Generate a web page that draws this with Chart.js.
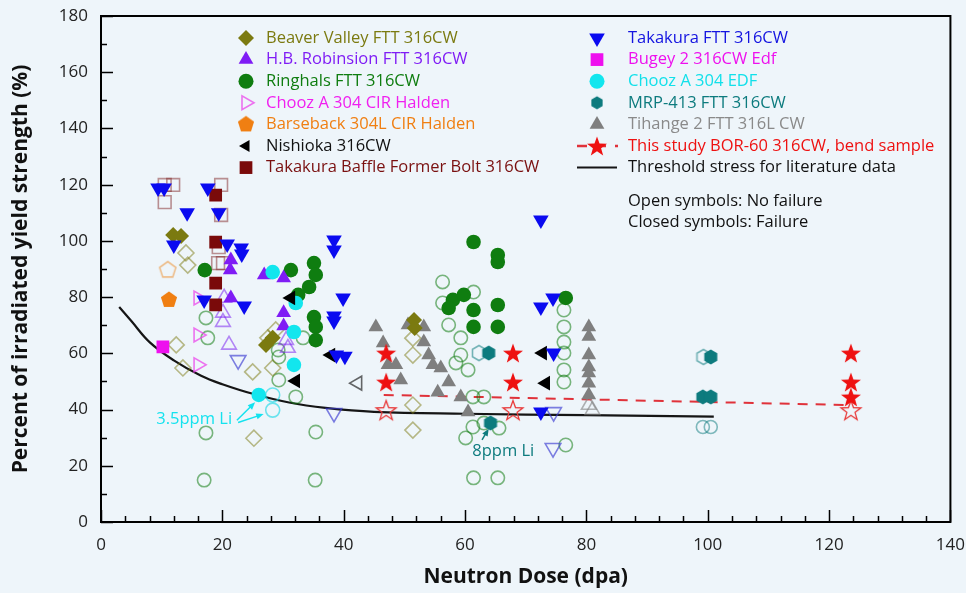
<!doctype html>
<html lang="en">
<head>
<meta charset="utf-8">
<title>Percent of irradiated yield strength vs neutron dose</title>
<script src="https://cdn.jsdelivr.net/npm/chart.js@4.4.0/dist/chart.umd.min.js"></script>
<style>
  html, body { margin: 0; padding: 0; background: #eef5fa; }
  #wrap { width: 966px; height: 593px; }
</style>
</head>
<body>
<div id="wrap"><canvas id="myChart" width="966" height="593"></canvas></div>

<script>
// ---- data: [dose (dpa), % of irradiated yield strength] ----
const beaverClosed = [[11.9,102.1],[13.2,101.7],[27.2,63],[28.3,65.5],[51.6,71.9],[51.7,69]];
const beaverOpen = [[14,95.7],[14.3,91.4],[12.4,63],[13.5,54.8],[25,53.4],[28.3,54.8],[27.5,65.5],[28.8,68.3],
  [25.2,29.8],[51.4,65.4],[51.4,59.4],[51.4,41.6],[51.4,32.7]];

const robinsonClosed = [[21.4,93.2],[21.3,89.6],[21.4,79.7],[26.9,87.9],[30.1,86.8],[30.1,74.4],[30.1,69.7]];
const robinsonOpen = [[20.3,79.7],[20.1,74.4],[20.1,71.1],[21.1,63],[30.5,64.7],[30.8,61.9]];

const ringhalsClosed = [[17.1,89.6],[31.3,89.6],[35.1,92.1],[35.4,87.9],[34.3,83.6],[32.5,80.8],[35.1,72.9],
  [35.4,69.4],[35.4,64.7],[61.4,99.6],[65.4,95],[65.4,92.5],[58,79],[59.8,80.8],[57.3,76.1],[61.4,75.4],
  [65.4,77.2],[61.4,69.4],[65.4,69.4],[76.6,79.7]];
const ringhalsOpen = [[17.3,72.6],[17.6,65.5],[29.2,61.2],[29.3,58.7],[29.3,50.5],[32.1,44.5],[35.4,32],
  [17.3,31.7],[17,14.9],[35.3,14.9],[33.3,65.5],[56.3,85.4],[56.3,77.9],[61.4,81.8],[57.3,70.1],[59.3,65.5],
  [59.3,59.4],[58.5,56.6],[60.5,54.1],[61.3,44.5],[63.1,44.5],[61.3,33.8],[63.1,35.2],[65.6,33.4],[60.1,29.9],
  [61.4,15.7],[65.4,15.7],[76.3,75.4],[76.3,69.4],[76.3,64],[76.3,60.1],[76.3,54.1],[76.3,49.8],[76.6,27.4]];

const choozCirOpen = [[16,79.7],[16,66.5],[16,55.9]];

const barsebackClosed = [[11.2,79]];
const barsebackOpen = [[11,89.6]];

const nishiokaClosed = [[31.3,79.7],[32.1,50.2],[37.9,59.4],[72.8,60.1],[73.3,49.4]];
const nishiokaOpen = [[42.3,49.4]];

const baffleClosed = [[18.9,116.3],[18.9,99.6],[18.9,85],[18.9,77.2]];
const baffleOpen = [[10.5,119.9],[11.9,119.9],[10.5,113.8],[19.8,119.9],[19.8,109.2],[19.4,97.8],[19.3,92.1],[20.1,92.1]];

const takakuraClosed = [[9.4,118.8],[10.4,118.8],[17.6,118.8],[14.2,110],[19.4,110],[12,98.5],[20.8,98.9],
  [23.1,97.5],[23.2,95.3],[17,79],[23.6,76.8],[38.4,100.3],[38.4,96.8],[39.9,79.7],[38.4,73.3],[38.4,71.5],
  [38.8,59.4],[40.2,59],[72.5,107.4],[72.5,76.5],[74.5,79.7],[74.6,60.1],[72.5,39.1]];
const takakuraOpen = [[22.6,57.6],[38.4,38.8],[74.6,39.1],[74.5,26.3]];

const bugeyClosed = [[10.2,62.3]];

const choozEdfClosed = [[28.3,88.9],[32.1,77.9],[31.8,67.6],[31.8,55.9],[26,45.2]];
const choozEdfOpen = [[28.3,45.2],[28.3,39.8]];

const mrpClosed = [[63.9,60.1],[100.5,58.7],[99.2,44.5],[100.5,44.5],[64.2,35.2]];
const mrpOpen = [[62.3,60.1],[99.3,58.7]];
const mrpOpenCircles = [[99.2,33.8],[100.5,33.8]];

const tihangeClosed = [[45.3,69.4],[46.5,63.7],[47.3,55.9],[48.6,55.9],[49.4,50.5],[50.6,70.1],[53.2,69.4],
  [53.2,64],[54,59.4],[54.7,55.9],[56,54.8],[57.3,49.8],[55.5,46.2],[59.3,44.5],[60.5,39.1],[80.4,69.4],
  [80.4,66],[80.4,59.4],[80.4,55.1],[80.4,53],[80.4,49.4],[80.4,45.2]];
const tihangeOpen = [[80.4,41.6],[81,39.8]];

const studyClosed = [[47,60.1],[47,49.8],[67.9,60.1],[67.9,49.8],[123.6,60.1],[123.6,49.8],[123.6,44.5]];
const studyOpen = [[47,39.8],[67.9,39.8],[123.6,39.8]];
const studyTrend = [[46.6,45.2],[123.2,41.6]];

const threshold = [[3,76.5],[5,71.5],[8,64],[12,57.5],[16.5,52],[20,49],[25,45.6],[31,42.5],[37,40.6],
  [45,39.2],[60,38.5],[80,38],[101,37.5]];

const xTicks = [0, 20, 40, 60, 80, 100, 120, 140];
const yTicks = [0, 20, 40, 60, 80, 100, 120, 140, 160, 180];

// ---- custom marker images (pentagon, hexagon, star) ----
function polyImage(sides, r, fill, stroke, lw) {
  const s = Math.ceil(2 * r + lw + 3);
  const c = document.createElement('canvas');
  c.width = c.height = s;
  const g = c.getContext('2d');
  g.beginPath();
  for (let i = 0; i < sides; i++) {
    const a = -Math.PI / 2 + i * 2 * Math.PI / sides;
    const px = s / 2 + r * Math.cos(a), py = s / 2 + r * Math.sin(a);
    if (i) g.lineTo(px, py); else g.moveTo(px, py);
  }
  g.closePath();
  if (fill) { g.fillStyle = fill; g.fill(); }
  if (stroke) { g.strokeStyle = stroke; g.lineWidth = lw; g.stroke(); }
  return c;
}
function starImage(R, r, fill, stroke, lw) {
  const s = Math.ceil(2 * R + lw + 3);
  const c = document.createElement('canvas');
  c.width = c.height = s;
  const g = c.getContext('2d');
  g.beginPath();
  for (let i = 0; i < 10; i++) {
    const a = -Math.PI / 2 + i * Math.PI / 5;
    const rr = i % 2 ? r : R;
    const px = s / 2 + rr * Math.cos(a), py = s / 2 + 1 + rr * Math.sin(a);
    if (i) g.lineTo(px, py); else g.moveTo(px, py);
  }
  g.closePath();
  if (fill) { g.fillStyle = fill; g.fill(); }
  if (stroke) { g.strokeStyle = stroke; g.lineWidth = lw; g.stroke(); }
  return c;
}

const pentFilled = polyImage(5, 8.5, '#f07f12', null, 0);
const pentOpen = polyImage(5, 8.5, null, 'rgba(236,150,60,0.6)', 1.6);
const hexFilled = polyImage(6, 7.5, '#0d7b7e', null, 0);
const hexOpen = polyImage(6, 7.5, null, 'rgba(13,123,126,0.55)', 1.6);
const hexLegend = polyImage(6, 6.5, '#0d7b7e', null, 0);
const starFilled = starImage(10.5, 4.3, '#ee1111', null, 0);
const starOpen = starImage(10.5, 4.3, null, '#e83a3a', 1.3);

function filled(label, data, color, style, r, rot) {
  return { label, data, pointStyle: style, rotation: rot || 0, pointRadius: r, pointHoverRadius: r,
    backgroundColor: color, borderColor: color, borderWidth: 0, showLine: false };
}
function open(label, data, color, style, r, rot) {
  return { label, data, pointStyle: style, rotation: rot || 0, pointRadius: r, pointHoverRadius: r,
    backgroundColor: 'rgba(0,0,0,0)', borderColor: color, borderWidth: 1.6, showLine: false };
}

const dsTakakura = filled('Takakura FTT 316CW', takakuraClosed, '#0a0af0', 'triangle', 9, 180);
const dsBaffle = filled('Takakura Baffle Former Bolt 316CW', baffleClosed, '#7a0a0a', 'rect', 9);
const dsBeaver = filled('Beaver Valley FTT 316CW', beaverClosed, '#7b7a10', 'rectRot', 8);
const dsRobinson = filled('H.B. Robinsion FTT 316CW', robinsonClosed, '#7f1cf5', 'triangle', 8.5);
const dsRinghals = filled('Ringhals FTT 316CW', ringhalsClosed, '#0f7d10', 'circle', 7.3);
const dsChoozCir = open('Chooz A 304 CIR Halden', choozCirOpen, 'rgba(235,70,235,0.75)', 'triangle', 8, 90);
const dsBarseback = filled('Barseback 304L CIR Halden', barsebackClosed, '#f07f12', pentFilled, 8);
const dsNishioka = filled('Nishioka 316CW', nishiokaClosed, '#000000', 'triangle', 8.5, -90);
const dsBugey = filled('Bugey 2 316CW Edf', bugeyClosed, '#ee10ee', 'rect', 9);
const dsChoozEdf = filled('Chooz A 304 EDF', choozEdfClosed, '#12e6ee', 'circle', 7.3);
const dsMrp = filled('MRP-413 FTT 316CW', mrpClosed, '#0d7b7e', hexFilled, 7);
const dsTihange = filled('Tihange 2 FTT 316L CW', tihangeClosed, '#7f7f7f', 'triangle', 8.5);
const dsStudy = filled('This study BOR-60 316CW, bend sample', studyClosed, '#ee1111', starFilled, 10);

const dsStudyLine = { label: 'study trend', data: studyTrend, showLine: true, pointRadius: 0,
  borderColor: '#e0323a', borderWidth: 2, borderDash: [10, 8], fill: false };
const dsThreshold = { label: 'Threshold stress for literature data', data: threshold, showLine: true,
  pointRadius: 0, borderColor: '#151515', borderWidth: 2.2, tension: 0.4, fill: false };

const datasets = [
  dsStudy, dsTakakura, dsNishioka, dsBaffle, dsBugey, dsMrp, dsChoozEdf, dsRobinson, dsBeaver,
  dsBarseback, dsRinghals, dsTihange,
  open('open star', studyOpen, '#e83a3a', starOpen, 10),
  open('open takakura', takakuraOpen, 'rgba(60,60,210,0.65)', 'triangle', 9, 180),
  open('open nishioka', nishiokaOpen, 'rgba(40,40,40,0.7)', 'triangle', 8, -90),
  dsChoozCir,
  open('open chooz edf', choozEdfOpen, 'rgba(20,215,230,0.6)', 'circle', 7),
  open('open mrp', mrpOpen, 'rgba(13,123,126,0.55)', hexOpen, 7),
  open('open mrp circ', mrpOpenCircles, 'rgba(13,123,126,0.5)', 'circle', 6.5),
  open('open robinson', robinsonOpen, 'rgba(127,40,240,0.55)', 'triangle', 8.5),
  open('open baffle', baffleOpen, 'rgba(130,40,40,0.5)', 'rect', 9),
  open('open beaver', beaverOpen, 'rgba(123,122,16,0.5)', 'rectRot', 8),
  open('open barseback', barsebackOpen, 'rgba(236,150,60,0.6)', pentOpen, 8),
  open('open ringhals', ringhalsOpen, 'rgba(20,125,20,0.55)', 'circle', 6.7),
  open('open tihange', tihangeOpen, 'rgba(130,130,130,0.6)', 'triangle', 8.5),
  dsStudyLine, dsThreshold
];

// legend rows (drawn by the plugin below)
const legendLeft = [
  [dsBeaver, '#7b7a10'], [dsRobinson, '#7f1cf5'], [dsRinghals, '#0f7d10'], [dsChoozCir, '#f020f0'],
  [dsBarseback, '#f07f12'], [dsNishioka, '#111111'], [dsBaffle, '#7a1010']
];
const legendRight = [
  [dsTakakura, '#1414e0'], [dsBugey, '#ee10ee'], [dsChoozEdf, '#12e0ea'], [dsMrp, '#0d7b7e'],
  [dsTihange, '#8a8a8a'], [dsStudy, '#ee1111'], [dsThreshold, '#111111']
];

const framePlugin = {
  id: 'frame',
  beforeDatasetsDraw(chart) {
    const { ctx, chartArea: a, scales } = chart;
    ctx.save();
    ctx.strokeStyle = '#000';
    ctx.lineWidth = 2;
    ctx.strokeRect(a.left, a.top, a.right - a.left, a.bottom - a.top);
    ctx.lineWidth = 1.5;
    ctx.beginPath();
    for (let v = 0; v <= 140; v += 4) {
      const px = Math.round(scales.x.getPixelForValue(v)) + 0.5;
      const len = v % 20 === 0 ? 12 : 6;
      ctx.moveTo(px, a.bottom); ctx.lineTo(px, a.bottom - len);
    }
    for (let v = 0; v <= 180; v += 10) {
      const py = Math.round(scales.y.getPixelForValue(v)) + 0.5;
      const len = v % 20 === 0 ? 12 : 6;
      ctx.moveTo(a.left, py); ctx.lineTo(a.left + len, py);
    }
    ctx.stroke();
    ctx.restore();
  }
};

function drawArrow(ctx, x1, y1, x2, y2, color) {
  const ang = Math.atan2(y2 - y1, x2 - x1);
  ctx.strokeStyle = color; ctx.fillStyle = color; ctx.lineWidth = 1.5;
  ctx.beginPath(); ctx.moveTo(x1, y1); ctx.lineTo(x2 - 5 * Math.cos(ang), y2 - 5 * Math.sin(ang)); ctx.stroke();
  ctx.beginPath();
  ctx.moveTo(x2, y2);
  ctx.lineTo(x2 - 8 * Math.cos(ang - 0.4), y2 - 8 * Math.sin(ang - 0.4));
  ctx.lineTo(x2 - 8 * Math.cos(ang + 0.4), y2 - 8 * Math.sin(ang + 0.4));
  ctx.closePath(); ctx.fill();
}

const notesPlugin = {
  id: 'notes',
  afterDraw(chart) {
    const { ctx, scales } = chart;
    const X = v => scales.x.getPixelForValue(v), Y = v => scales.y.getPixelForValue(v);
    ctx.save();
    ctx.font = '16.5px "Open Sans", sans-serif';
    ctx.textBaseline = 'middle';
    ctx.textAlign = 'right';
    ctx.fillStyle = '#14e2ee';
    ctx.fillText('3.5ppm Li', X(21.6), Y(36.6));
    drawArrow(ctx, X(22.4), Y(36.2), X(25.4), Y(42.6), '#14e2ee');
    drawArrow(ctx, X(22.6), Y(35.4), X(26.8), Y(38.4), '#14e2ee');
    ctx.textAlign = 'left';
    ctx.fillStyle = '#0d7b7e';
    ctx.fillText('8ppm Li', X(61.2), Y(25));
    drawArrow(ctx, X(62.8), Y(29.2), X(63.9), Y(33.2), '#0d7b7e');

    // legend
    const rowH = 21.6;
    const drawCol = (items, mx, tx, y0) => {
      items.forEach(([ds, color], i) => {
        const y = y0 + i * rowH;
        if (ds === dsThreshold) {
          ctx.strokeStyle = '#151515'; ctx.lineWidth = 2; ctx.setLineDash([]);
          ctx.beginPath(); ctx.moveTo(mx - 20, y); ctx.lineTo(mx + 20, y); ctx.stroke();
        } else {
          if (ds === dsStudy) {
            ctx.strokeStyle = '#e0323a'; ctx.lineWidth = 2.5; ctx.setLineDash([10, 9]);
            ctx.beginPath(); ctx.moveTo(mx - 20, y); ctx.lineTo(mx + 21, y); ctx.stroke();
            ctx.setLineDash([]);
          }
          const style = ds === dsMrp ? hexLegend : ds.pointStyle;
          const r = ds === dsNishioka ? 7 : (ds === dsRinghals || ds === dsChoozEdf ? 7.5 : ds.pointRadius);
          ctx.fillStyle = ds.backgroundColor; ctx.strokeStyle = ds.borderColor; ctx.lineWidth = ds.borderWidth;
          Chart.helpers.drawPoint(ctx, { pointStyle: style, rotation: ds.rotation, radius: r,
            borderWidth: ds.borderWidth }, mx, y);
        }
        ctx.fillStyle = color;
        ctx.fillText(ds.label, tx, y);
      });
    };
    drawCol(legendLeft, 246, 266, 38);
    drawCol(legendRight, 597, 628, 38);
    ctx.fillStyle = '#111';
    ctx.fillText('Open symbols: No failure', 628, 201);
    ctx.fillText('Closed symbols: Failure', 628, 222);
    ctx.restore();
  }
};

Chart.defaults.font.family = "'Open Sans', sans-serif";

// tick marks are drawn inside by the frame plugin; the invisible outer tick length
// only sets how far the labels sit from the axis
const hiddenTicks = { display: true, drawOnChartArea: false, drawTicks: true, tickLength: 12, color: 'rgba(0,0,0,0)' };

new Chart(document.getElementById('myChart').getContext('2d'), {
  type: 'scatter',
  data: { datasets },
  options: {
    responsive: false,
    animation: false,
    devicePixelRatio: 1,
    layout: { padding: { left: 4, right: 14, top: 16, bottom: 3 } },
    plugins: { legend: { display: false }, tooltip: { enabled: false } },
    scales: {
      x: {
        type: 'linear', min: 0, max: 140,
        afterBuildTicks: s => { s.ticks = xTicks.map(v => ({ value: v })); },
        ticks: { padding: 1, font: { size: 17 }, color: '#222' },
        grid: hiddenTicks,
        border: { display: false },
        title: { display: true, text: 'Neutron Dose (dpa)', color: '#111',
          font: { size: 21, weight: 'bold' }, padding: { top: 0, bottom: 0 } },
        afterFit: s => { s.height = 68; }
      },
      y: {
        type: 'linear', min: 0, max: 180,
        afterBuildTicks: s => { s.ticks = yTicks.map(v => ({ value: v })); },
        ticks: { padding: 1, font: { size: 17 }, color: '#222' },
        grid: hiddenTicks,
        border: { display: false },
        title: { display: true, text: 'Percent of irradiated yield strength (%)', color: '#111',
          font: { size: 21, weight: 'bold' }, padding: { top: 4, bottom: 0 } },
        afterFit: s => { s.width = 97; }
      }
    }
  },
  plugins: [framePlugin, notesPlugin]
});
</script>
</body>
</html>
